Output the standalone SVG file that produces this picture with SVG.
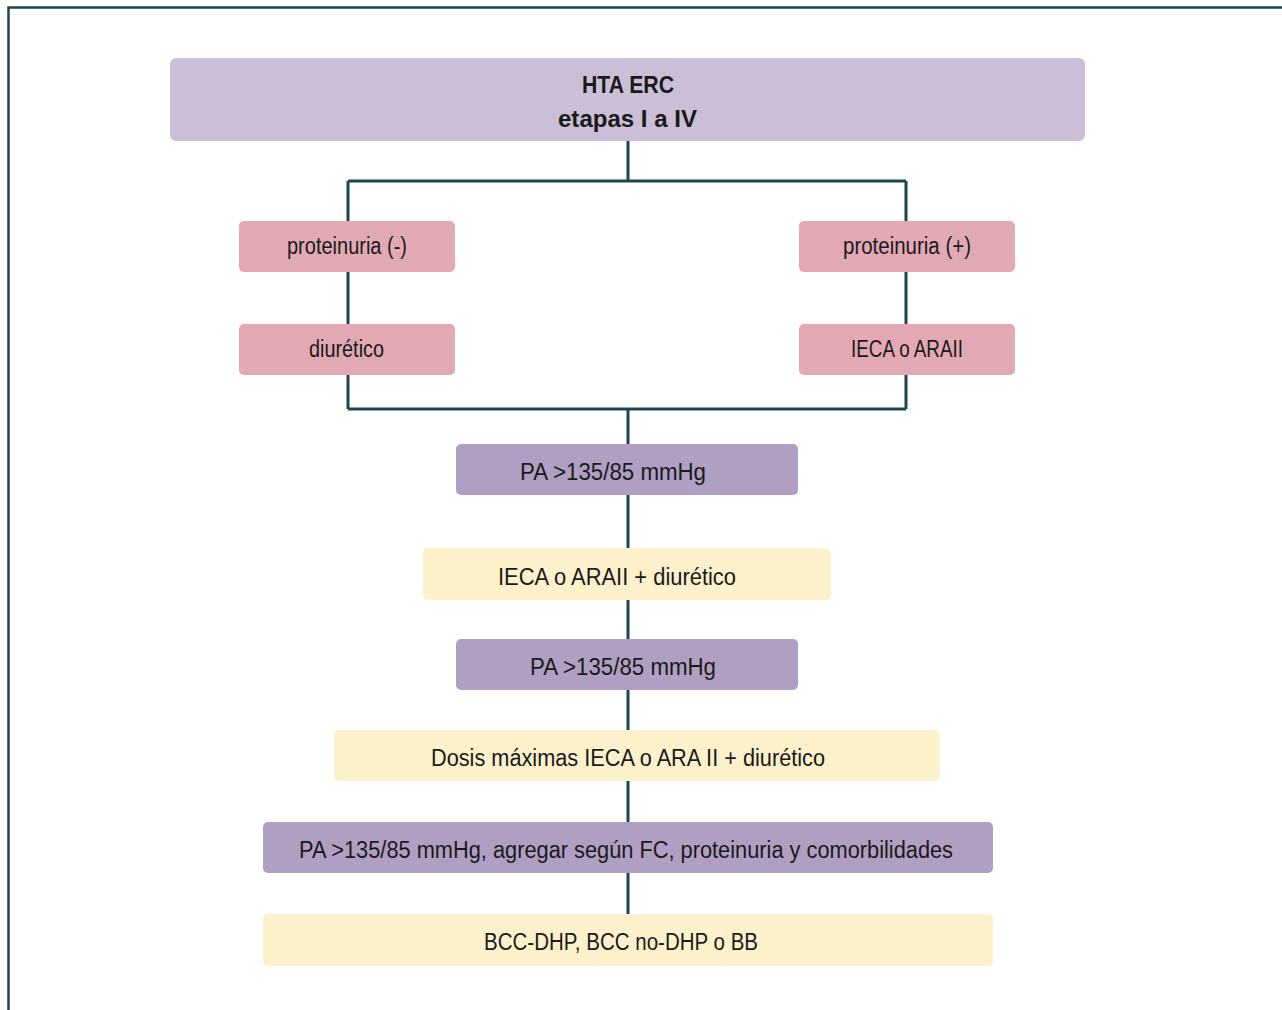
<svg xmlns="http://www.w3.org/2000/svg" width="1282" height="1010" viewBox="0 0 1282 1010">
<style>
.t{font-family:"Liberation Sans",Arial,sans-serif;font-size:23px;fill:#1a1a1a;text-anchor:middle}
.b{font-weight:bold}
.lila{fill:#cbbfd7}
.pink{fill:#e2a9b4}
.purp{fill:#b09fc3}
.yel{fill:#fdf1cc}
.c{stroke:#1d4552;stroke-width:3;fill:none}
</style>
<rect width="1282" height="1010" fill="#ffffff"/>
<path d="M8.5 1010 V7.5 H1282" stroke="#1d4552" stroke-width="2.5" fill="none"/>
<g id="connectors">
<path class="c" d="M628 141 V181 M348 181 H906 M348 181 V409 M906 181 V409 M348 409 H906 M628 409 V914"/>
</g>
<g id="n-top"><rect class="lila" x="170" y="58" width="915" height="83" rx="6"/>
<text class="t b" x="628" y="93" textLength="92" lengthAdjust="spacingAndGlyphs">HTA ERC</text>
<text class="t b" x="627.5" y="127" textLength="139" lengthAdjust="spacingAndGlyphs">etapas I a IV</text></g>
<g id="n-protneg"><rect class="pink" x="239" y="221" width="216" height="51" rx="5"/>
<text class="t" x="347" y="254" textLength="120" lengthAdjust="spacingAndGlyphs">proteinuria (-)</text></g>
<g id="n-diur"><rect class="pink" x="239" y="324" width="216" height="51" rx="5"/>
<text class="t" x="346.5" y="357" textLength="75" lengthAdjust="spacingAndGlyphs">diurético</text></g>
<g id="n-protpos"><rect class="pink" x="799" y="221" width="216" height="51" rx="5"/>
<text class="t" x="907" y="254" textLength="128" lengthAdjust="spacingAndGlyphs">proteinuria (+)</text></g>
<g id="n-ieca"><rect class="pink" x="799" y="324" width="216" height="51" rx="5"/>
<text class="t" x="907" y="357" textLength="112" lengthAdjust="spacingAndGlyphs">IECA o ARAII</text></g>
<g id="n-pa1"><rect class="purp" x="456" y="444" width="342" height="51" rx="5"/>
<text class="t" x="613" y="480" textLength="186" lengthAdjust="spacingAndGlyphs">PA &gt;135/85 mmHg</text></g>
<g id="n-ieca-diur"><rect class="yel" x="423" y="548" width="408" height="52" rx="5"/>
<text class="t" x="617" y="585" textLength="238" lengthAdjust="spacingAndGlyphs">IECA o ARAII + diurético</text></g>
<g id="n-pa2"><rect class="purp" x="456" y="639" width="342" height="51" rx="5"/>
<text class="t" x="623" y="675" textLength="186" lengthAdjust="spacingAndGlyphs">PA &gt;135/85 mmHg</text></g>
<g id="n-dosis"><rect class="yel" x="334" y="730" width="606" height="51" rx="5"/>
<text class="t" x="628" y="766" textLength="394" lengthAdjust="spacingAndGlyphs">Dosis máximas IECA o ARA II + diurético</text></g>
<g id="n-pa3"><rect class="purp" x="263" y="822" width="730" height="51" rx="5"/>
<text class="t" x="626" y="858" textLength="654" lengthAdjust="spacingAndGlyphs">PA &gt;135/85 mmHg, agregar según FC, proteinuria y comorbilidades</text></g>
<g id="n-bcc"><rect class="yel" x="263" y="914" width="730" height="52" rx="5"/>
<text class="t" x="621" y="950" textLength="274" lengthAdjust="spacingAndGlyphs">BCC-DHP, BCC no-DHP o BB</text></g>
</svg>
